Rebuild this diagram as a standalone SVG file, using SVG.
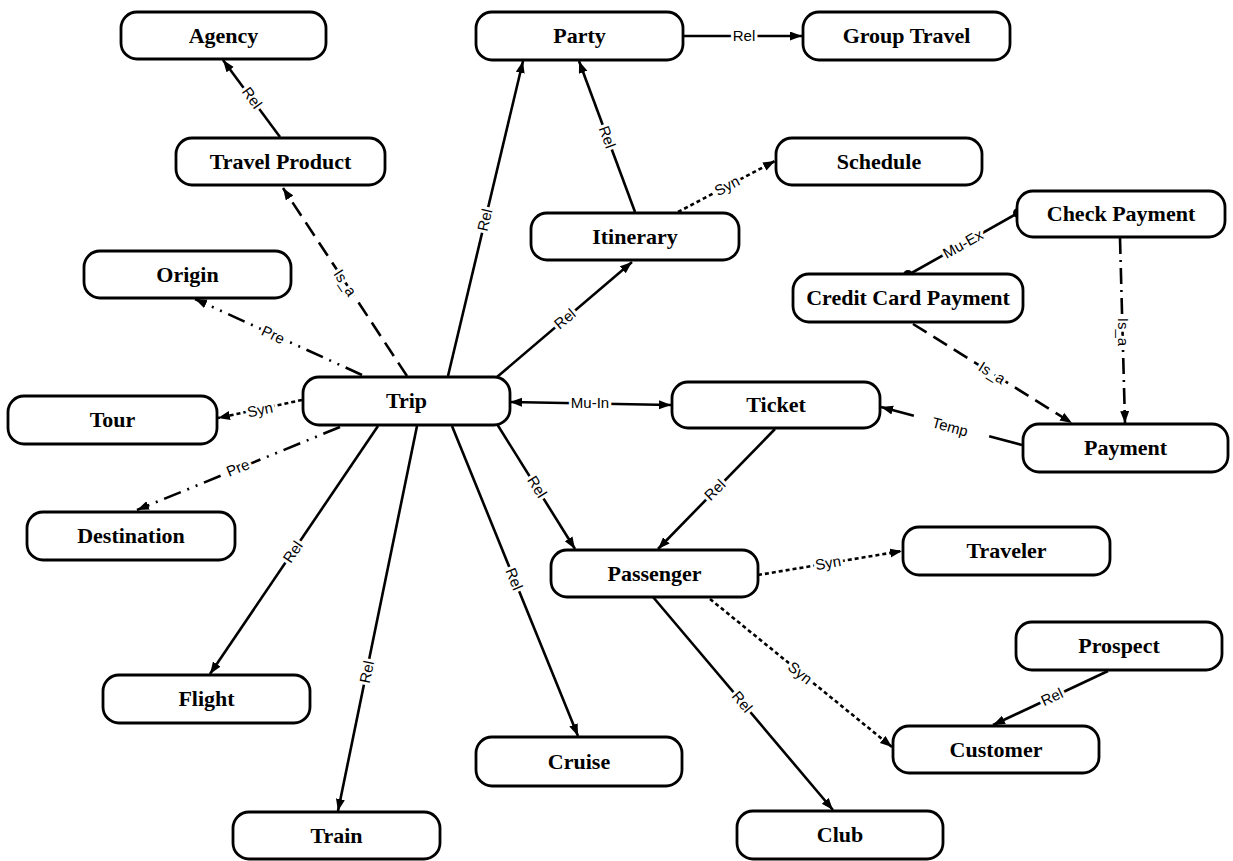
<svg xmlns="http://www.w3.org/2000/svg" width="1233" height="861" viewBox="0 0 1233 861">
<defs>
<marker id="arr" markerUnits="userSpaceOnUse" markerWidth="13" markerHeight="10" refX="12" refY="4.5" orient="auto-start-reverse" viewBox="0 0 13 10">
<path d="M0,0 L12,4.5 L0,9 z" fill="#000"/>
</marker>
<marker id="dot" markerUnits="userSpaceOnUse" markerWidth="12" markerHeight="12" refX="6" refY="6" viewBox="0 0 12 12">
<circle cx="6" cy="6" r="5" fill="#000"/>
</marker>
</defs>
<style>
.node rect{fill:#fff;stroke:#000;stroke-width:2.8}
.node text{font-family:"Liberation Serif","Times New Roman",serif;font-size:22px;font-weight:bold;text-anchor:middle;fill:#000}
.e{fill:none;stroke:#000;stroke-width:2.6}
.a{marker-end:url(#arr)}
.isa{stroke-dasharray:16 8}
.pre{stroke-dasharray:18 7 2 7 2 7}
.syn{stroke-dasharray:4 3}
.temp{stroke-dasharray:34 22}
.isa2{stroke-dasharray:16 6 2 6}
.lbl{font-family:"Liberation Sans",Arial,sans-serif;font-size:15px;text-anchor:middle;fill:#000;stroke:#fff;stroke-width:6;paint-order:stroke;stroke-linejoin:round}
</style>
<rect width="1233" height="861" fill="#fff"/>
<g id="connectors">
<line class="e a" x1="280" y1="137" x2="223" y2="60"/>
<line class="e a isa" x1="407" y1="376" x2="283" y2="188"/>
<line class="e a pre" x1="362" y1="375" x2="195" y2="299"/>
<line class="e a syn" x1="302" y1="400" x2="218" y2="418"/>
<line class="e a pre" x1="340" y1="427" x2="137" y2="510"/>
<line class="e a" x1="448" y1="376" x2="523" y2="61"/>
<line class="e a" x1="497" y1="377" x2="632" y2="262"/>
<line class="e a" x1="635" y1="212" x2="579" y2="61"/>
<line class="e a" x1="683" y1="36" x2="802" y2="36"/>
<line class="e a syn" x1="678" y1="212" x2="775" y2="161"/>
<line class="e" x1="908" y1="275" x2="1018" y2="213" marker-start="url(#dot)" marker-end="url(#dot)"/>
<line class="e a isa" x1="913" y1="324" x2="1072" y2="423"/>
<line class="e a isa2" x1="1120" y1="238" x2="1125" y2="423"/>
<line class="e a temp" x1="1022" y1="445" x2="881" y2="407"/>
<line class="e a" x1="510" y1="402" x2="671" y2="405" marker-start="url(#arr)"/>
<line class="e a" x1="378" y1="426" x2="210" y2="674"/>
<line class="e a" x1="417" y1="426" x2="338" y2="811"/>
<line class="e a" x1="452" y1="426" x2="578" y2="736"/>
<line class="e a" x1="497" y1="424" x2="575" y2="549"/>
<line class="e a" x1="775" y1="429" x2="658" y2="549"/>
<line class="e a syn" x1="758" y1="575" x2="902" y2="551"/>
<line class="e a syn" x1="710" y1="599" x2="892" y2="747"/>
<line class="e a" x1="653" y1="597" x2="833" y2="810"/>
<line class="e a" x1="1108" y1="671" x2="993" y2="725"/>
<text class="lbl" transform="translate(252,98) rotate(54)" y="5">Rel</text>
<text class="lbl" transform="translate(345,283) rotate(57)" y="5">Is_a</text>
<text class="lbl" transform="translate(273,335) rotate(25)" y="5">Pre</text>
<text class="lbl" transform="translate(260,410) rotate(-12)" y="5">Syn</text>
<text class="lbl" transform="translate(238,468) rotate(-22)" y="5">Pre</text>
<text class="lbl" transform="translate(485,220) rotate(-77)" y="5">Rel</text>
<text class="lbl" transform="translate(565,319) rotate(-40)" y="5">Rel</text>
<text class="lbl" transform="translate(607,137) rotate(70)" y="5">Rel</text>
<text class="lbl" transform="translate(744,36)" y="5">Rel</text>
<text class="lbl" transform="translate(727,186) rotate(-28)" y="5">Syn</text>
<text class="lbl" transform="translate(963,244) rotate(-29)" y="5">Mu-Ex</text>
<text class="lbl" transform="translate(992,373) rotate(32)" y="5">Is_a</text>
<text class="lbl" transform="translate(1123,332) rotate(90)" y="5">Is_a</text>
<text class="lbl" transform="translate(950,427) rotate(15)" y="5">Temp</text>
<text class="lbl" transform="translate(590,403)" y="5">Mu-In</text>
<text class="lbl" transform="translate(293,552) rotate(-56)" y="5">Rel</text>
<text class="lbl" transform="translate(367,672) rotate(-78)" y="5">Rel</text>
<text class="lbl" transform="translate(514,579) rotate(68)" y="5">Rel</text>
<text class="lbl" transform="translate(537,487) rotate(58)" y="5">Rel</text>
<text class="lbl" transform="translate(715,490) rotate(-45)" y="5">Rel</text>
<text class="lbl" transform="translate(828,563) rotate(-10)" y="5">Syn</text>
<text class="lbl" transform="translate(800,673) rotate(39)" y="5">Syn</text>
<text class="lbl" transform="translate(742,702) rotate(50)" y="5">Rel</text>
<text class="lbl" transform="translate(1052,697) rotate(-25)" y="5">Rel</text>
</g>
<g id="agency" class="node"><rect x="121" y="12" width="205" height="47" rx="16"/><text x="223.5" y="43">Agency</text></g>
<g id="party" class="node"><rect x="476" y="12" width="207" height="48" rx="16"/><text x="579.5" y="43">Party</text></g>
<g id="group-travel" class="node"><rect x="803" y="12" width="207" height="48" rx="16"/><text x="906.5" y="43">Group Travel</text></g>
<g id="travel-product" class="node"><rect x="176" y="138" width="209" height="47" rx="16"/><text x="280.5" y="169">Travel Product</text></g>
<g id="schedule" class="node"><rect x="776" y="138" width="206" height="47" rx="16"/><text x="879" y="169">Schedule</text></g>
<g id="itinerary" class="node"><rect x="531" y="213" width="208" height="47" rx="16"/><text x="635" y="244">Itinerary</text></g>
<g id="check-payment" class="node"><rect x="1017" y="191" width="208" height="46" rx="16"/><text x="1121" y="221">Check Payment</text></g>
<g id="origin" class="node"><rect x="84" y="251" width="207" height="47" rx="16"/><text x="187.5" y="282">Origin</text></g>
<g id="credit-card-payment" class="node"><rect x="793" y="274" width="230" height="48" rx="16"/><text x="908" y="305">Credit Card Payment</text></g>
<g id="trip" class="node"><rect x="303" y="377" width="207" height="48" rx="16"/><text x="406.5" y="408">Trip</text></g>
<g id="tour" class="node"><rect x="8" y="396" width="209" height="48" rx="16"/><text x="112.5" y="427">Tour</text></g>
<g id="ticket" class="node"><rect x="672" y="382" width="208" height="46" rx="16"/><text x="776" y="412">Ticket</text></g>
<g id="payment" class="node"><rect x="1023" y="424" width="205" height="48" rx="16"/><text x="1125.5" y="455">Payment</text></g>
<g id="destination" class="node"><rect x="27" y="512" width="208" height="48" rx="16"/><text x="131" y="543">Destination</text></g>
<g id="passenger" class="node"><rect x="551" y="550" width="207" height="47" rx="16"/><text x="654.5" y="581">Passenger</text></g>
<g id="traveler" class="node"><rect x="903" y="527" width="207" height="48" rx="16"/><text x="1006.5" y="558">Traveler</text></g>
<g id="prospect" class="node"><rect x="1016" y="622" width="206" height="48" rx="16"/><text x="1119" y="653">Prospect</text></g>
<g id="customer" class="node"><rect x="893" y="726" width="206" height="47" rx="16"/><text x="996" y="757">Customer</text></g>
<g id="flight" class="node"><rect x="103" y="675" width="207" height="48" rx="16"/><text x="206.5" y="706">Flight</text></g>
<g id="cruise" class="node"><rect x="476" y="737" width="206" height="49" rx="16"/><text x="579" y="769">Cruise</text></g>
<g id="train" class="node"><rect x="233" y="812" width="207" height="47" rx="16"/><text x="336.5" y="843">Train</text></g>
<g id="club" class="node"><rect x="737" y="811" width="206" height="48" rx="16"/><text x="840" y="842">Club</text></g>
</svg>
